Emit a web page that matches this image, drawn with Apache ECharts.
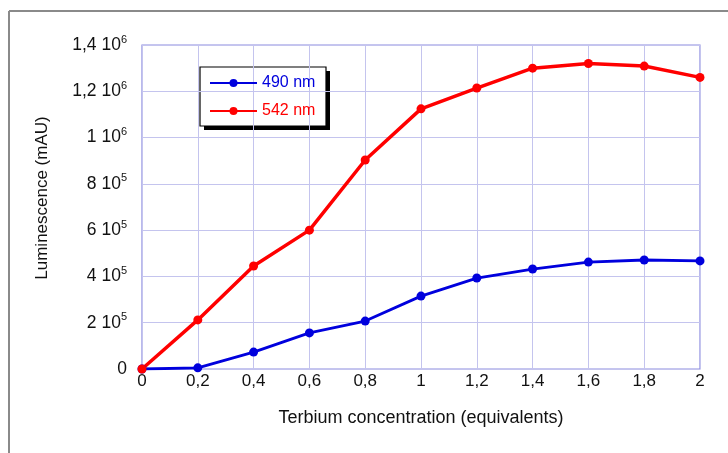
<!DOCTYPE html>
<html>
<head>
<meta charset="utf-8">
<script src="https://cdn.jsdelivr.net/npm/echarts@6/dist/echarts.min.js"></script>
<style>html,body{margin:0;padding:0;background:#fff;}#c{width:728px;height:453px;}</style>
</head>
<body>
<div id="c"></div>
<script>
const concentrations = [0, 0.2, 0.4, 0.6, 0.8, 1.0, 1.2, 1.4, 1.6, 1.8, 2.0];
const lum490 = [0, 5000, 73000, 156000, 207000, 315000, 393000, 432000, 462000, 471000, 467000];
const lum542 = [0, 212000, 445000, 600000, 903000, 1124000, 1214000, 1300000, 1320000, 1309000, 1260000];
const seriesNames = ['490 nm', '542 nm'];
const xTitle = 'Terbium concentration (equivalents)';
const yTitle = 'Luminescence (mAU)';

const chart = echarts.init(document.getElementById('c'));
const font = 'Liberation Sans, Arial, sans-serif';
function pairs(ys){ return concentrations.map((x,i)=>[x, ys[i]]); }
function yFmt(v){
  if (v === 0) return '{a|0}';
  const e = Math.floor(Math.log10(v) + 1e-9);
  const m = +(v / Math.pow(10, e)).toFixed(2);
  return '{a|' + String(m).replace('.', ',') + ' 10}{s|' + e + '}';
}
chart.setOption({
  animation: false,
  backgroundColor: '#fff',
  graphic: [
    {type:'line', shape:{x1:9, y1:11, x2:728, y2:11}, style:{stroke:'#8a8a8a', lineWidth:2}},
    {type:'line', shape:{x1:9, y1:11, x2:9, y2:453}, style:{stroke:'#8a8a8a', lineWidth:2}},
    {type:'rect', shape:{x:204, y:71, width:126, height:59}, style:{fill:'#000'}},
    {type:'rect', shape:{x:200, y:67, width:126, height:59}, style:{fill:'#fff', stroke:'#000', lineWidth:1.2}}
  ],
  grid: {left:142, right:28, top:45, bottom:84, show:true, borderColor:'#8c8ce0', borderWidth:1.2, backgroundColor:'#fff'},
  legend: {
    left: 204, top: 75, orient:'vertical', itemGap: 12, itemWidth: 47, itemHeight: 10, padding:[0,5],
    data: seriesNames,
    formatter: n => n === seriesNames[0] ? '{b|'+n+'}' : '{r|'+n+'}',
    textStyle:{fontFamily:font, fontSize:16, rich:{
      b:{color:'#0000dd', fontFamily:font, fontSize:16},
      r:{color:'#ff0000', fontFamily:font, fontSize:16}}}
  },
  xAxis: {
    type:'value', min:0, max:2, interval:0.2,
    name: xTitle, nameLocation:'middle', nameGap: 40,
    nameTextStyle:{fontFamily:font, fontSize:18, color:'#111'},
    axisLine:{show:false}, axisTick:{show:false},
    axisLabel:{fontFamily:font, fontSize:17, color:'#111', margin:4,
      formatter: v => String(+v.toFixed(1)).replace('.', ',')},
    splitLine:{show:true, lineStyle:{color:'#c4c4ee', width:1}}
  },
  yAxis: {
    type:'value', min:0, max:1400000, interval:200000,
    name: yTitle, nameLocation:'middle', nameGap: 91, nameRotate: 90,
    nameTextStyle:{fontFamily:font, fontSize:17, color:'#111', padding:[0,0,0,18]},
    axisLine:{show:false}, axisTick:{show:false},
    axisLabel:{margin:15, formatter: yFmt,
      rich:{
        a:{fontFamily:font, fontSize:17.5, color:'#111'},
        s:{fontFamily:font, fontSize:11, color:'#111', padding:[0,0,11,0]}
      }},
    splitLine:{show:true, lineStyle:{color:'#c4c4ee', width:1}}
  },
  series: [
    {name: seriesNames[0], type:'line', data: pairs(lum490), symbol:'circle', symbolSize:9,
     itemStyle:{color:'#0000dd'}, lineStyle:{color:'#0000dd', width:2.8}},
    {name: seriesNames[1], type:'line', data: pairs(lum542), symbol:'circle', symbolSize:9,
     itemStyle:{color:'#ff0000'}, lineStyle:{color:'#ff0000', width:3.5}}
  ]
});
</script>
</body>
</html>
